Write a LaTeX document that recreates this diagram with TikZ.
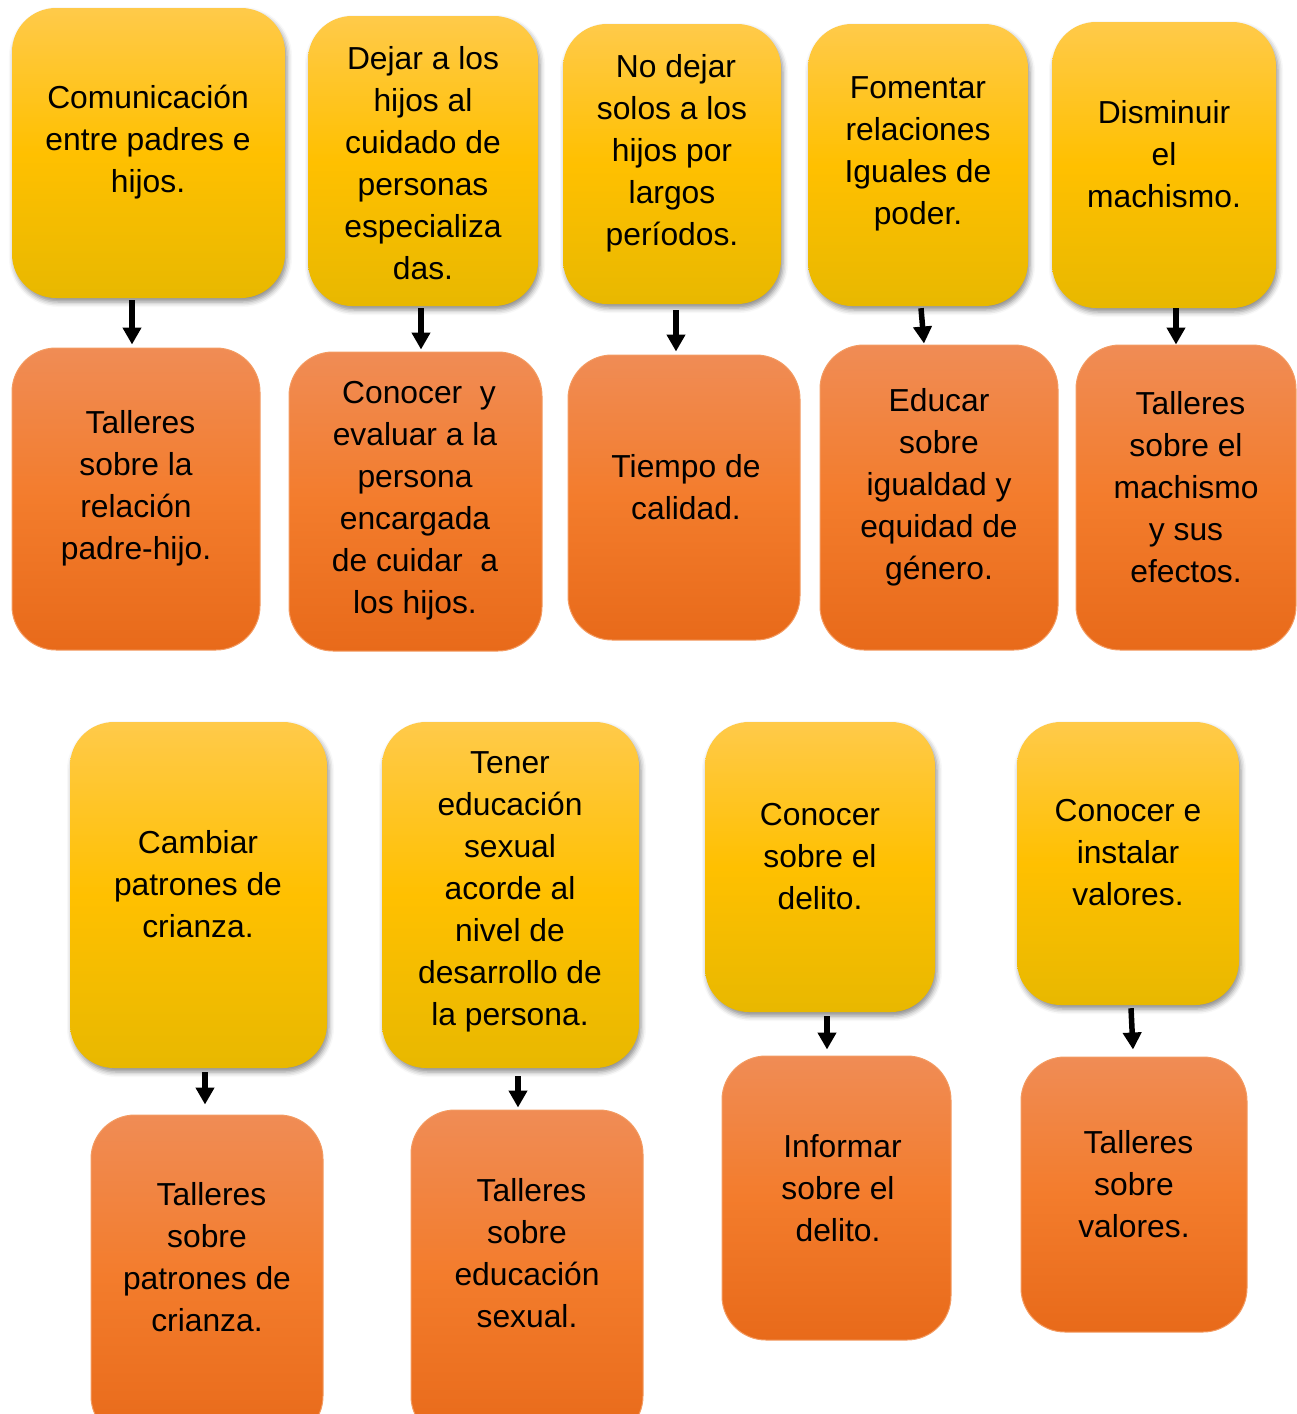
\documentclass[tikz,border=0pt]{standalone}
\usepackage{fontspec}
\setmainfont{Liberation Sans}
\usetikzlibrary{arrows.meta,shadows.blur}
\definecolor{ytop}{HTML}{FFCA4A}
\definecolor{ymid}{HTML}{FFC000}
\definecolor{ybot}{HTML}{E8B800}
\definecolor{otop}{HTML}{F08C55}
\definecolor{omid}{HTML}{F37C2C}
\definecolor{obot}{HTML}{E86A1A}
\definecolor{oline}{HTML}{F39B62}
\newcommand\mkbox[6]{\node[#2, minimum width=#5pt, minimum height=#6pt] (#1) at (#3,#4) {};}
\begin{document}
\begin{tikzpicture}[x=1pt,y=-1pt,
  ybox/.style={rounded corners=44pt, top color=ytop, bottom color=ybot, middle color=ymid, draw=none, inner sep=0pt,
    blur shadow={shadow xshift=2pt, shadow yshift=-4pt, shadow blur radius=5pt, shadow opacity=45}},
  obox/.style={rounded corners=44pt, top color=otop, bottom color=obot, middle color=omid, draw=oline, line width=1pt, inner sep=0pt},
  txt/.style={align=center, font=\fontsize{31.8}{42}\selectfont, inner sep=0pt, yshift=-2.5pt},
  arr/.style={line width=5.5pt, -{Triangle[width=18pt,length=17pt]}}]
\useasboundingbox (0,0) rectangle (1297,1414);
\clip (0,0) rectangle (1297,1414);
% top row, yellow
\mkbox{y1}{ybox}{148.5}{153}{273}{290}
\mkbox{y2}{ybox}{423}{161}{230}{290}
\mkbox{y3}{ybox}{672}{164}{218}{280}
\mkbox{y4}{ybox}{918}{165}{220}{282}
\mkbox{y5}{ybox}{1164}{165}{224}{286}
% top row, orange
\mkbox{o1}{obox}{136}{499}{248}{302}
\mkbox{o2}{obox}{415.5}{501.5}{253}{299}
\mkbox{o3}{obox}{684}{497.5}{232}{285}
\mkbox{o4}{obox}{939}{497.5}{238}{305}
\mkbox{o5}{obox}{1186}{497.5}{220}{305}
% bottom row, yellow
\mkbox{y6}{ybox}{198.5}{895}{257}{346}
\mkbox{y7}{ybox}{510.5}{895}{257}{346}
\mkbox{y8}{ybox}{820}{867}{230}{290}
\mkbox{y9}{ybox}{1128}{863.5}{222}{283}
% bottom row, orange
\mkbox{o6}{obox}{207}{1277.5}{232}{325}
\mkbox{o7}{obox}{527}{1275}{232}{330}
\mkbox{o8}{obox}{836.5}{1198}{229}{284}
\mkbox{o9}{obox}{1134}{1194.5}{226}{275}
% texts
\node[txt] (t1) at (148,140) {Comunicación\\entre padres e\\hijos.};
\node[txt] (t2) at (423,160.5) {Dejar a los\\hijos al\\cuidado de\\personas\\especializa\\das.};
\node[txt] (t3) at (672,151) {\hspace*{8pt}No dejar\\solos a los\\hijos por\\largos\\períodos.};
\node[txt] (t4) at (918,151.5) {Fomentar\\relaciones\\Iguales de\\poder.};
\node[txt] (t5) at (1164,151.5) {Disminuir\\el\\machismo.};
\node[txt] (u1) at (136,486) {\hspace*{9pt}Talleres\\sobre la\\relación\\padre-hijo.};
\node[txt] (u2) at (415,498.5) {\hspace*{8pt}Conocer\ \ y\\evaluar a la\\persona\\encargada\\de cuidar\ \ a\\los hijos.};
\node[txt] (u3) at (686,485) {Tiempo de\\calidad.};
\node[txt] (u4) at (939,485) {Educar\\sobre\\igualdad y\\equidad de\\género.};
\node[txt] (u5) at (1186,485) {\hspace*{9pt}Talleres\\sobre el\\machismo\\y sus\\efectos.};
\node[txt] (t6) at (198,881.5) {Cambiar\\patrones de\\crianza.};
\node[txt] (t7) at (510,889) {Tener\\educación\\sexual\\acorde al\\nivel de\\desarrollo de\\la persona.};
\node[txt] (t8) at (820,854) {Conocer\\sobre el\\delito.};
\node[txt] (t9) at (1128,850) {Conocer e\\instalar\\valores.};
\node[txt] (u6) at (207,1254.5) {\hspace*{9pt}Talleres\\sobre\\patrones de\\crianza.};
\node[txt] (u7) at (527,1250.5) {\hspace*{9pt}Talleres\\sobre\\educación\\sexual.};
\node[txt] (u8) at (838,1186) {\hspace*{9pt}Informar\\sobre el\\delito.};
\node[txt] (u9) at (1134,1182) {\hspace*{9pt}Talleres\\sobre\\valores.};
% arrows
\draw[arr] ([xshift=-16.5pt,yshift=-2pt]y1.south) -- ([xshift=-4pt,yshift=3pt]o1.north);
\draw[arr] ([xshift=-2pt,yshift=-2pt]y2.south) -- ([xshift=5.5pt,yshift=2pt]o2.north);
\draw[arr] ([xshift=4pt,yshift=-6pt]y3.south) -- ([xshift=-8pt,yshift=3pt]o3.north);
\draw[arr] ([xshift=3pt,yshift=-2pt]y4.south) -- ([xshift=-15pt,yshift=1pt]o4.north);
\draw[arr] ([xshift=12pt]y5.south) -- ([xshift=-10pt]o5.north);
\draw[arr] ([xshift=6.5pt,yshift=-4pt]y6.south) -- ([xshift=-2pt,yshift=10pt]o6.north);
\draw[arr] ([xshift=7.5pt,yshift=-8pt]y7.south) -- ([xshift=-9pt,yshift=2pt]o7.north);
\draw[arr] ([xshift=7pt,yshift=-4pt]y8.south) -- ([xshift=-9.5pt,yshift=6pt]o8.north);
\draw[arr] ([xshift=3pt,yshift=-3pt]y9.south) -- ([xshift=-1pt,yshift=7pt]o9.north);
\end{tikzpicture}
\end{document}
